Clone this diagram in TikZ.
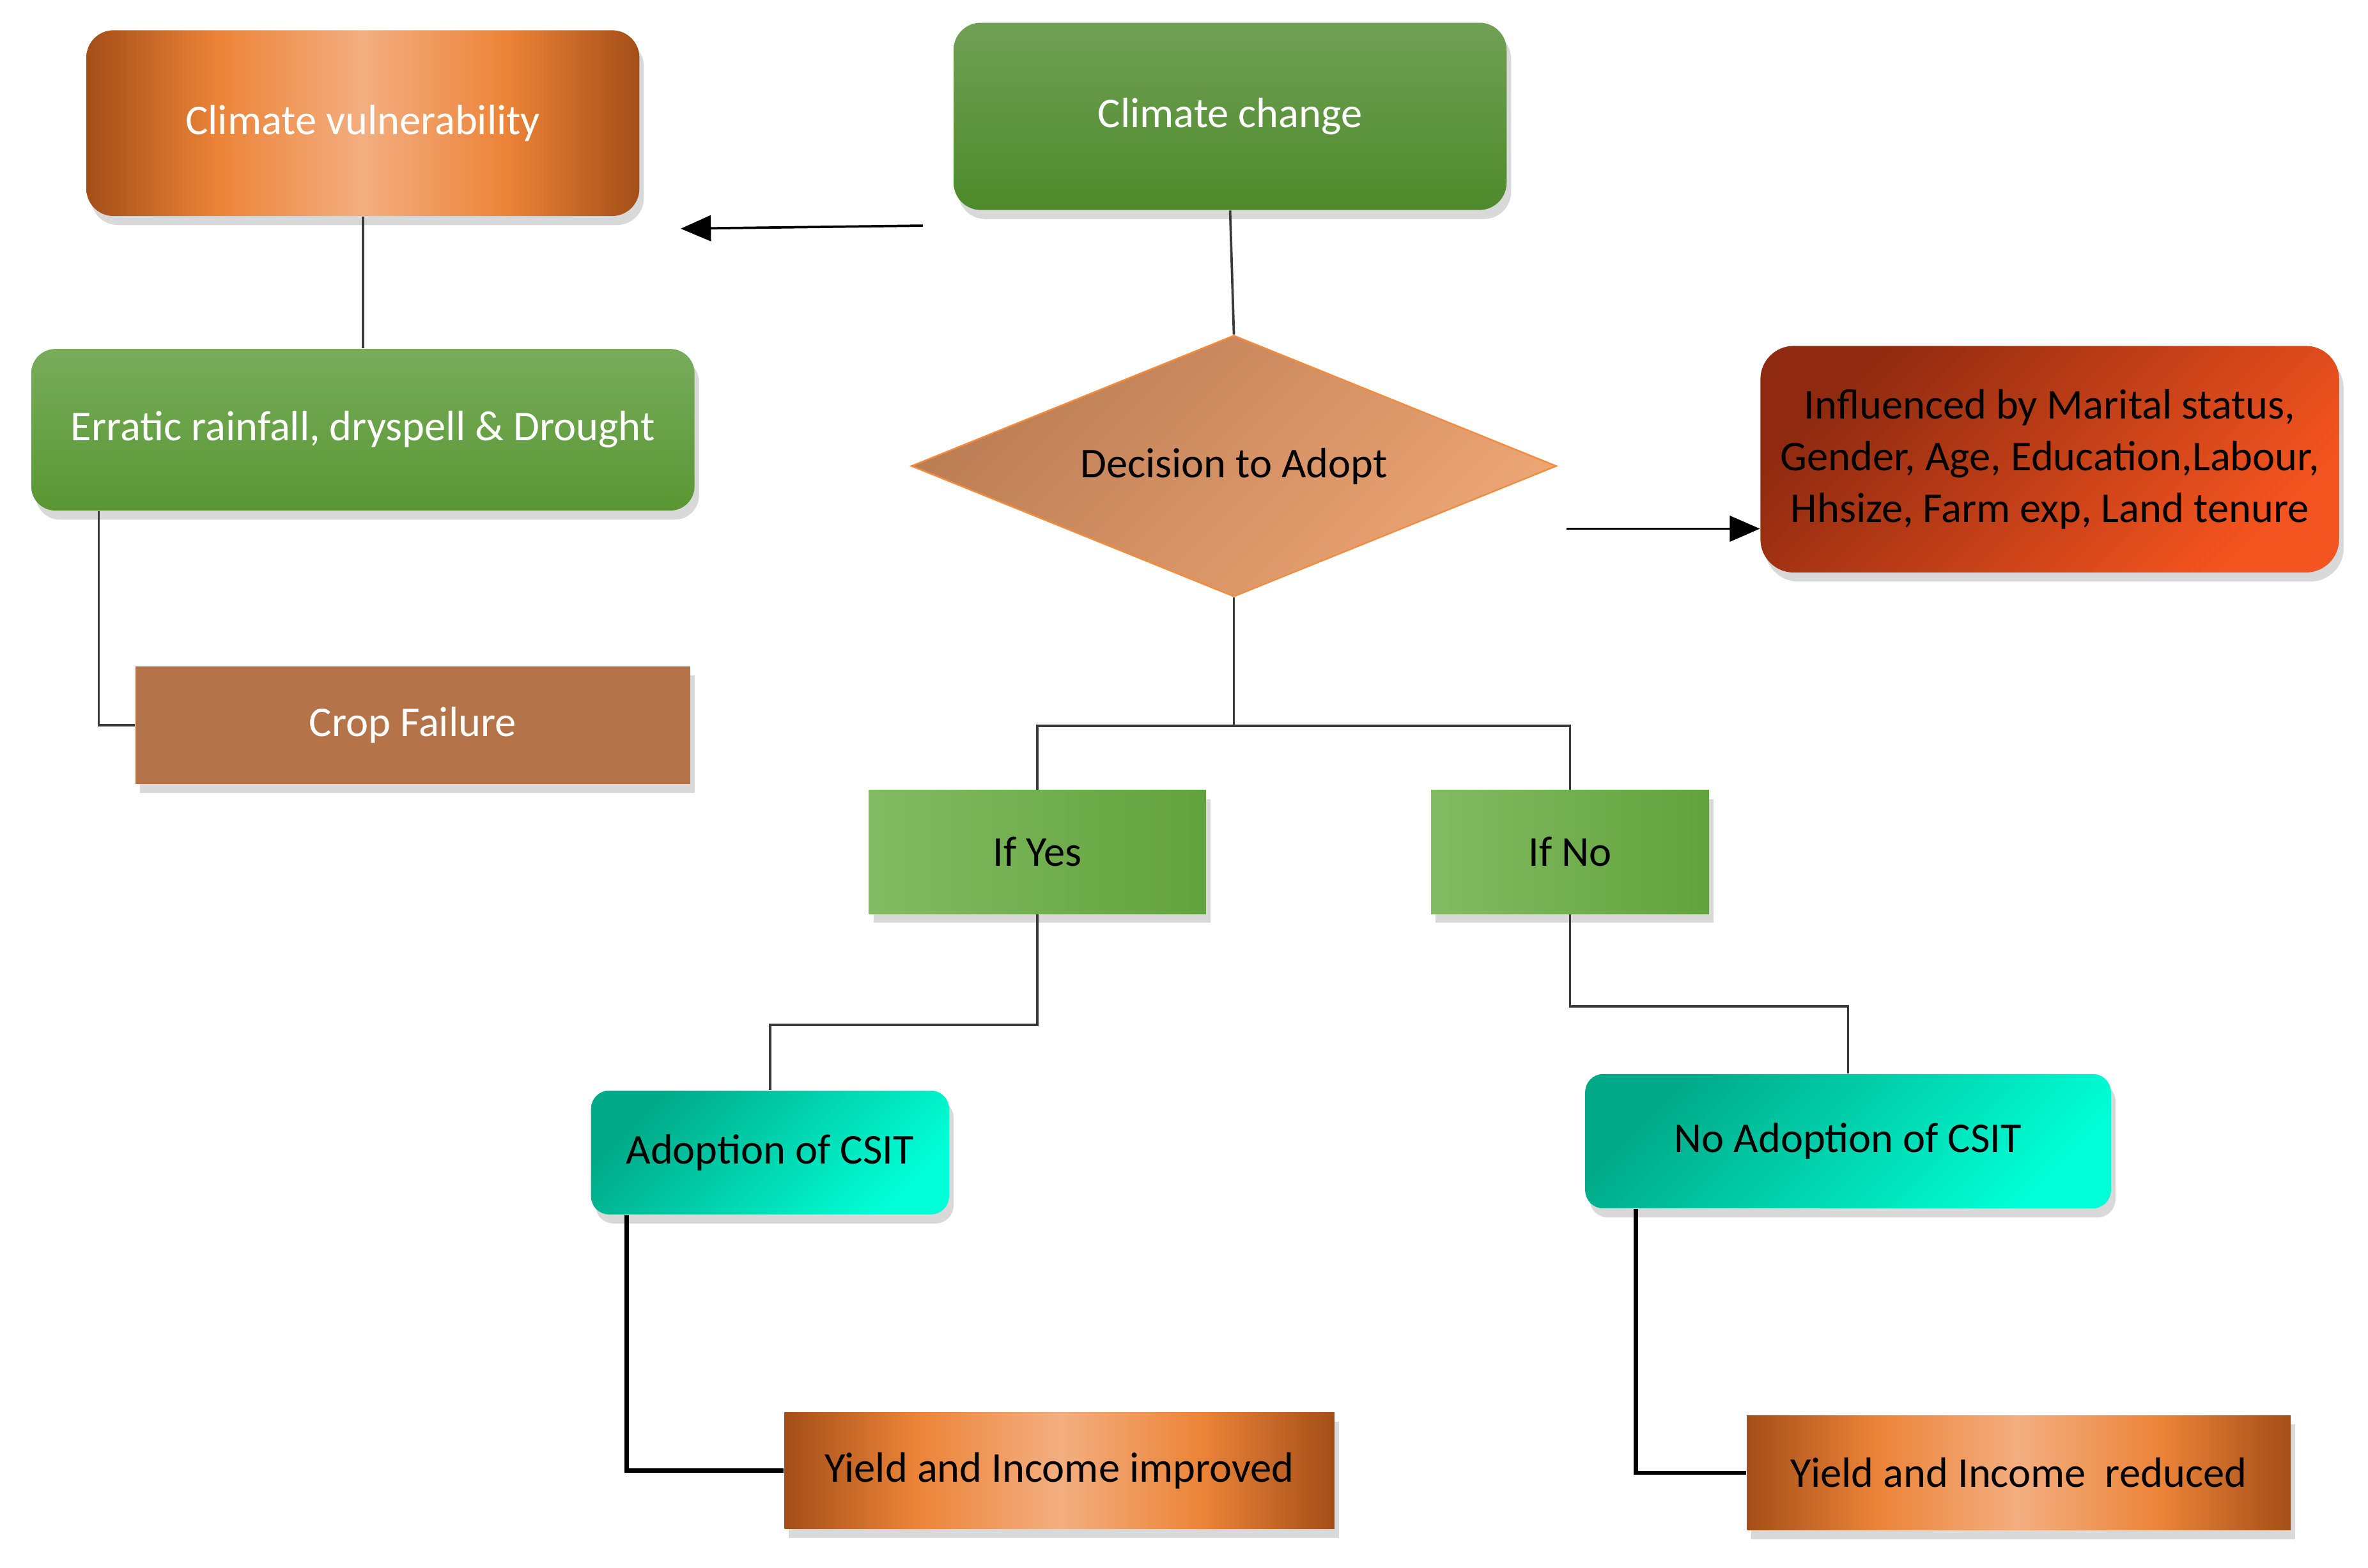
\documentclass[tikz,border=0pt]{standalone}
\usepackage{fontspec}
\setmainfont{Carlito}
\usetikzlibrary{shapes.geometric, arrows.meta, positioning, calc, shadows}

\definecolor{cuDark}{HTML}{A44E18}
\definecolor{cuOrange}{HTML}{EC8438}
\definecolor{cuLight}{HTML}{F3AE80}
\definecolor{ccTop}{HTML}{70A055}
\definecolor{ccBot}{HTML}{4E8A2B}
\definecolor{erTop}{HTML}{78AC5B}
\definecolor{erBot}{HTML}{599733}
\definecolor{cropBrown}{HTML}{B47349}
\definecolor{decA}{HTML}{BB7D54}
\definecolor{decB}{HTML}{EDA574}
\definecolor{decLine}{HTML}{F28C3E}
\definecolor{infA}{HTML}{8F2A10}
\definecolor{infB}{HTML}{F4541F}
\definecolor{ifA}{HTML}{82BC62}
\definecolor{ifB}{HTML}{62A23C}
\definecolor{tealA}{HTML}{00A987}
\definecolor{tealB}{HTML}{00FFD6}
\definecolor{lineGray}{HTML}{3A3A3A}

\pgfdeclarehorizontalshading{copper}{100bp}{color(0bp)=(cuDark); color(25bp)=(cuDark); color(37bp)=(cuOrange); color(50bp)=(cuLight); color(63bp)=(cuOrange); color(75bp)=(cuDark); color(100bp)=(cuDark)}

\tikzstyle{base} = [text centered, inner sep=0pt, font=\fontsize{16pt}{19.5pt}\selectfont]
\tikzstyle{boxshadow} = [drop shadow={shadow xshift=0.06cm, shadow yshift=-0.12cm, opacity=0.3}]
\tikzstyle{copperbox} = [rectangle, base, boxshadow, shade, shading=copper]
\tikzstyle{greenbox} = [rectangle, base, boxshadow, text=white, top color=ccTop, bottom color=ccBot]
\tikzstyle{ifbox} = [rectangle, base, boxshadow, left color=ifA, right color=ifB]
\tikzstyle{tealbox} = [rectangle, rounded corners=0.24cm, base, boxshadow, top color=tealA, bottom color=tealB, shading angle=45]
\tikzstyle{decision} = [diamond, aspect=2.47, base, draw=decLine, line width=0.6pt, top color=decA, bottom color=decB, shading angle=45, minimum width=8.54cm, minimum height=3.46cm]
\tikzstyle{line} = [draw=lineGray, line width=0.9pt]
\tikzstyle{thickline} = [draw=black, line width=1.6pt]
\tikzstyle{arrow} = [line width=0.9pt, -{Triangle[length=0.4cm, width=0.34cm]}]

\begin{document}
\begin{tikzpicture}[x=0.02cm, y=-0.02cm, node distance=2cm]
\useasboundingbox (0,0) rectangle (1567,1037.5);

%%%%% MAIN BLOCKS
\node (cc) [greenbox, rounded corners=0.36cm, minimum width=7.32cm, minimum height=2.48cm] at (814,77) {Climate change};
\node (cv) [copperbox, text=white, rounded corners=0.36cm, minimum width=7.32cm, minimum height=2.46cm, left of=cc, xshift=-9.48cm, yshift=-0.09cm] {Climate vulnerability};
\node (er) [greenbox, rounded corners=0.32cm, top color=erTop, bottom color=erBot, minimum width=8.78cm, minimum height=2.14cm, below of=cv, yshift=-2.06cm] {Erratic rainfall, dryspell \& Drought};
\node (cf) [rectangle, base, boxshadow, fill=cropBrown, text=white, minimum width=7.34cm, minimum height=1.56cm, below of=er, xshift=0.66cm, yshift=-1.91cm] {Crop Failure};

\node (dec) [decision, below of=cc, xshift=0.05cm, yshift=-2.63cm] {Decision to Adopt};
% influencing factors
\node (inf) [rectangle, base, boxshadow, align=center, rounded corners=0.44cm, top color=infA, bottom color=infB, shading angle=45, minimum width=7.66cm, minimum height=3cm, right of=dec, xshift=8.8cm, yshift=0.09cm] {Influenced by Marital status,\\ Gender, Age, Education,Labour,\\ Hhsize, Farm exp, Land tenure};

\node (yes) [ifbox, minimum width=4.46cm, minimum height=1.64cm, below of=dec, xshift=-2.6cm, yshift=-3.11cm] {If Yes};
\node (no) [ifbox, minimum width=3.68cm, minimum height=1.64cm, right of=yes, xshift=5.05cm] {If No};

\node (ad) [tealbox, minimum width=4.74cm, minimum height=1.64cm, below of=yes, xshift=-3.54cm, yshift=-1.98cm] {Adoption of CSIT};
\node (nad) [tealbox, minimum width=6.96cm, minimum height=1.78cm, below of=no, xshift=3.68cm, yshift=-1.83cm] {No Adoption of CSIT};

\node (yi) [copperbox, minimum width=7.28cm, minimum height=1.54cm, below of=ad, xshift=3.83cm, yshift=-2.21cm] {Yield and Income improved};
\node (yr) [copperbox, minimum width=7.2cm, minimum height=1.52cm, below of=nad, xshift=2.26cm, yshift=-2.39cm] {Yield and Income~ reduced};

%%%%% CONNECTORS
\draw [line] (cv.south) -- (er.north);
\draw [line] ($(er.south west)+(45,0)$) |- (cf.west);
\draw [line] (cc.south) -- (dec.north);

\coordinate (split) at ($(dec.south)+(0,85)$);
\draw [line] (dec.south) -- (split);
\draw [line] (yes.north) |- (split) -| (no.north);
\draw [line] (yes.south) -- ++(0,73) -| (ad.north);
\draw [line] (no.south) -- ++(0,61) -| (nad.north);

\draw [thickline] ($(ad.south west)+(24,0)$) |- (yi.west);
\draw [thickline] ($(nad.south west)+(34,0)$) |- (yr.west);

%%%%% ARROWS
\coordinate (ccL) at ($(cc.south west)+(-20,10)$);
\coordinate (cvR) at ($(cv.south east)+(27,8)$);
\draw [arrow] (ccL) -- (cvR);
\coordinate (decR) at ($(dec.east)+(6,41.5)$);
\draw [arrow] (decR) -- (decR -| inf.west);
\end{tikzpicture}
\end{document}
